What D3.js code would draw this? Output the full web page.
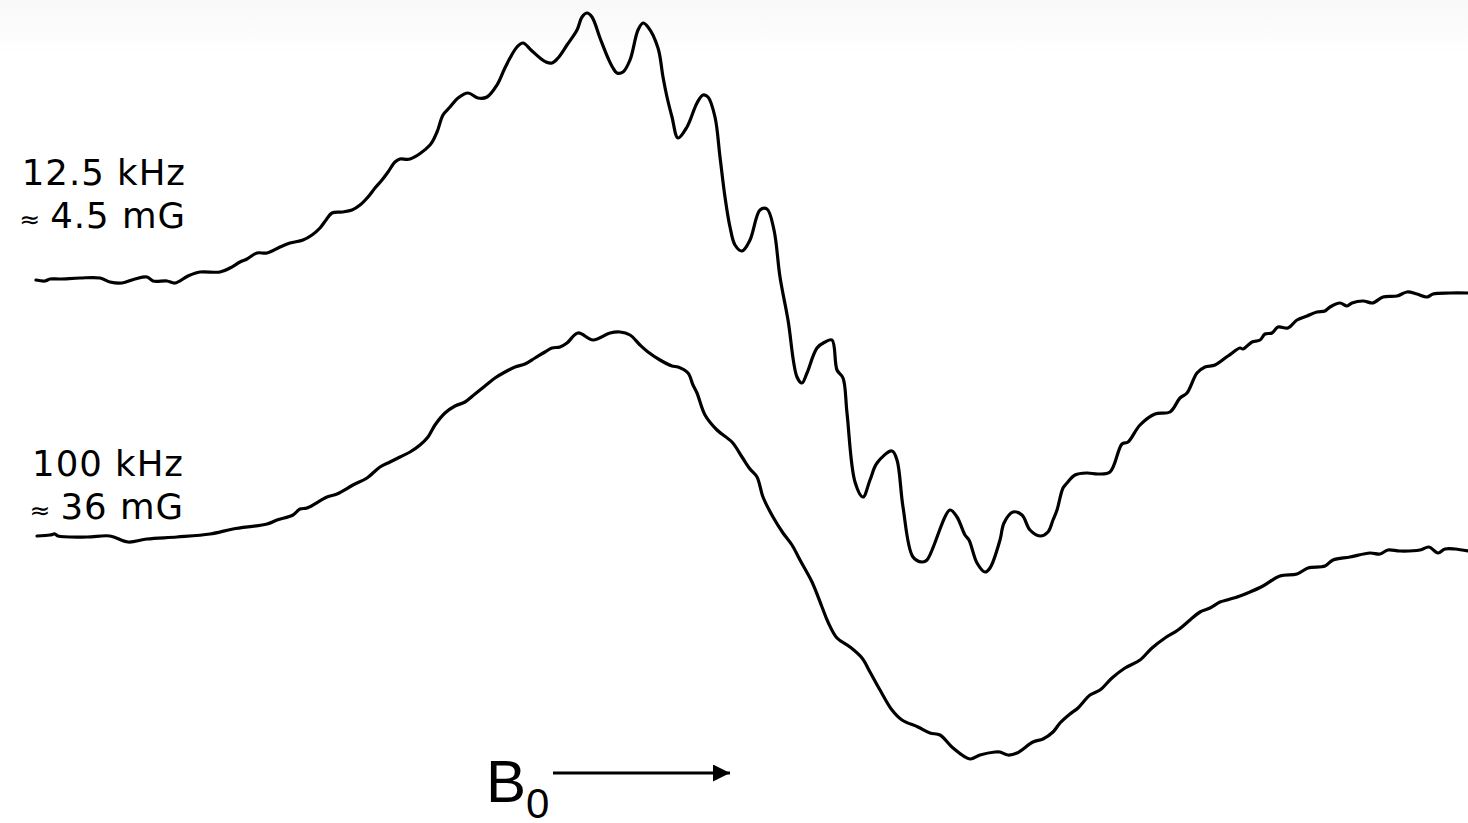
<!DOCTYPE html>
<html>
<head>
<meta charset="utf-8">
<script src="https://cdn.jsdelivr.net/npm/d3@7"></script>
<style>
  html, body { margin: 0; padding: 0; background: #fff; }
  svg { display: block; }
</style>
</head>
<body>
<script>
// field in arbitrary units, signal in arbitrary units (derivative EPR traces)
const upperField = [0, 9, 14, 24, 44, 64, 74, 86, 99, 111, 117, 131, 139, 152, 164, 184, 194, 204, 211, 221, 231, 244, 254, 267, 276, 284, 290, 296, 306, 316, 324, 332, 339, 346, 352, 359, 364, 374, 394, 401, 407, 414, 422, 432, 442, 451, 461, 468, 474, 481, 487, 495, 504, 510, 516, 522, 531, 541, 546, 551, 556, 564, 572, 577, 581, 587, 594, 602, 607, 612, 622, 627, 631, 636, 642, 651, 661, 667, 672, 679, 684, 689, 694, 699, 706, 714, 724, 731, 738, 744, 752, 761, 766, 771, 781, 789, 796, 801, 807, 811, 819, 827, 834, 841, 856, 861, 867, 877, 886, 891, 914, 921, 929, 933, 941, 949, 954, 964, 968, 977, 986, 994, 1004, 1012, 1017, 1021, 1027, 1031, 1039, 1051, 1062, 1074, 1086, 1092, 1104, 1119, 1134, 1144, 1151, 1161, 1169, 1179, 1192, 1204, 1207, 1216, 1224, 1229, 1236, 1242, 1252, 1261, 1271, 1281, 1289, 1294, 1304, 1311, 1316, 1327, 1336, 1339, 1347, 1361, 1371, 1381, 1391, 1397, 1414, 1432];
const upperSignal = [0, -1, 1, 1, 2, 2, -2, -3, 1, 3, -1, -1, -3, 4, 8, 8, 12, 18, 21, 27, 27, 33, 37, 40, 45, 52, 60, 67, 68, 70, 75, 83, 92, 100, 108, 118, 121, 121, 135, 148, 165, 173, 182, 187, 182, 183, 195, 210, 222, 233, 237, 230, 222, 218, 217, 222, 235, 250, 263, 267, 263, 242, 222, 212, 207, 208, 220, 250, 257, 253, 232, 203, 183, 163, 142, 153, 177, 185, 183, 163, 123, 83, 53, 35, 29, 40, 70, 71, 50, 3, -40, -97, -103, -93, -68, -62, -60, -90, -98, -133, -202, -217, -200, -183, -171, -180, -227, -277, -282, -280, -230, -237, -255, -260, -283, -292, -288, -260, -243, -232, -235, -250, -256, -252, -240, -230, -208, -203, -195, -193, -194, -192, -164, -162, -145, -134, -132, -118, -113, -93, -87, -85, -76, -68, -69, -62, -60, -54, -53, -47, -48, -40, -36, -32, -31, -27, -23, -26, -23, -21, -23, -22, -17, -16, -12, -14, -17, -14, -13, -13];

const lowerField = [1, 14, 19, 22, 51, 74, 92, 111, 141, 174, 197, 231, 241, 257, 264, 271, 291, 301, 317, 331, 344, 354, 364, 374, 384, 392, 399, 409, 419, 429, 439, 449, 459, 469, 479, 489, 499, 509, 516, 524, 531, 542, 557, 574, 584, 594, 604, 612, 624, 636, 642, 652, 657, 661, 669, 681, 696, 706, 714, 721, 727, 737, 747, 756, 764, 776, 786, 792, 801, 814, 826, 834, 844, 856, 866, 882, 894, 904, 917, 934, 944, 959, 964, 972, 981, 997, 1007, 1017, 1024, 1034, 1042, 1054, 1064, 1076, 1089, 1104, 1116, 1129, 1142, 1154, 1164, 1174, 1184, 1191, 1204, 1214, 1227, 1244, 1261, 1272, 1289, 1297, 1314, 1334, 1344, 1352, 1364, 1384, 1393, 1402, 1409, 1419, 1432];
const lowerSignal = [2, 3, 4, 2, 1, 2, -4, -1, 1, 4, 9, 14, 18, 23, 29, 30, 41, 44, 53, 60, 71, 76, 81, 86, 93, 101, 113, 125, 132, 136, 144, 152, 160, 166, 171, 174, 180, 186, 190, 191, 195, 205, 198, 205, 206, 203, 193, 186, 178, 172, 171, 165, 153, 145, 123, 108, 96, 81, 69, 61, 41, 21, 5, -7, -22, -44, -69, -84, -100, -109, -120, -134, -152, -172, -182, -189, -195, -197, -210, -221, -217, -214, -214, -217, -215, -204, -201, -194, -185, -176, -170, -157, -152, -140, -130, -122, -110, -100, -92, -82, -74, -70, -64, -62, -58, -54, -48, -38, -36, -30, -28, -22, -19, -15, -16, -12, -13, -12, -9, -15, -11, -11, -13];

// second line: [approx sign, value]
const labelUpper = ["12.5 kHz", "4.5 mG"];
const labelLower = ["100 kHz", "36 mG"];

const width = 1468, height = 823;

const svg = d3.select("body").append("svg")
    .attr("width", width)
    .attr("height", height);

// faint grey fade at the top edge
const defs = svg.append("defs");
const grad = defs.append("linearGradient")
    .attr("id", "topfade")
    .attr("x1", 0).attr("y1", 0).attr("x2", 0).attr("y2", 1);
grad.append("stop").attr("offset", "0%").attr("stop-color", "#f8f8f8");
grad.append("stop").attr("offset", "100%").attr("stop-color", "#ffffff");
svg.append("rect").attr("width", width).attr("height", height).attr("fill", "#fff");
svg.append("rect").attr("width", width).attr("height", 55).attr("fill", "url(#topfade)");

defs.append("marker")
    .attr("id", "arrowhead")
    .attr("viewBox", "0 0 10 10")
    .attr("refX", 10).attr("refY", 5)
    .attr("markerWidth", 17).attr("markerHeight", 17)
    .attr("markerUnits", "userSpaceOnUse")
    .attr("orient", "auto")
    .append("path")
    .attr("d", "M0,0 L10,5 L0,10 Z")
    .attr("fill", "#000");

const x = d3.scaleLinear().domain([0, 1432]).range([36, 1468]);
const yUpper = d3.scaleLinear().domain([-300, 280]).range([580, 0]);
const yLower = d3.scaleLinear().domain([-300, 300]).range([838, 238]);

function trace(fields, signals, y) {
    const pts = fields.map((f, i) => [f, signals[i]]);
    const line = d3.line()
        .x(d => x(d[0]))
        .y(d => y(d[1]))
        .curve(d3.curveCatmullRom.alpha(0.5));
    svg.append("path")
        .datum(pts)
        .attr("fill", "none")
        .attr("stroke", "#000")
        .attr("stroke-width", 3.2)
        .attr("stroke-linejoin", "round")
        .attr("stroke-linecap", "round")
        .attr("d", line);
}

trace(upperField, upperSignal, yUpper);
trace(lowerField, lowerSignal, yLower);

function label(lines, xEnd, yFirst) {
    const font = "Verdana, 'DejaVu Sans', sans-serif";
    svg.append("text")
        .attr("x", xEnd).attr("y", yFirst)
        .attr("text-anchor", "end")
        .style("font-family", font)
        .style("font-size", "35.5px")
        .style("letter-spacing", "1px")
        .text(lines[0]);
    const t = svg.append("text")
        .attr("x", xEnd).attr("y", yFirst + 43)
        .attr("text-anchor", "end")
        .style("font-family", font)
        .style("font-size", "35.5px")
        .style("letter-spacing", "1px");
    t.append("tspan").style("font-size", "25px").text("\u2248 ");
    t.append("tspan").text(lines[1]);
}
label(labelUpper, 186, 185);
label(labelLower, 184, 476);

// field direction
const b0 = svg.append("text")
    .attr("x", 486).attr("y", 802)
    .style("font-family", "Arial, 'Liberation Sans', sans-serif")
    .style("font-size", "60px")
    .attr("fill", "#000");
b0.append("tspan").text("B");
b0.append("tspan").attr("dy", 16).style("font-size", "42px").text("0");

svg.append("line")
    .attr("x1", 553).attr("y1", 773)
    .attr("x2", 730).attr("y2", 773)
    .attr("stroke", "#000")
    .attr("stroke-width", 3)
    .attr("marker-end", "url(#arrowhead)");
</script>
</body>
</html>
